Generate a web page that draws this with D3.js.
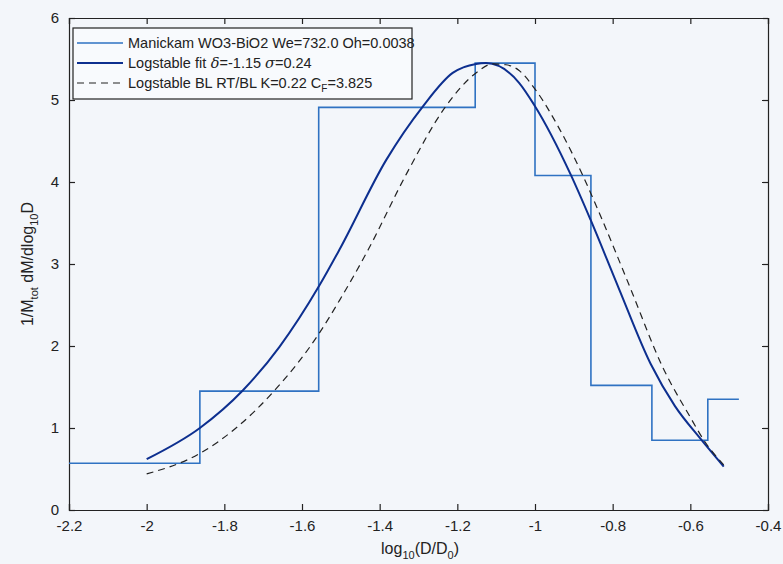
<!DOCTYPE html>
<html>
<head>
<meta charset="utf-8">
<script src="https://cdn.jsdelivr.net/npm/d3@7"></script>
<style>
  body { margin: 0; background: #f3f6fa; }
  svg { display: block; font-family: "Liberation Sans", Arial, sans-serif; }
</style>
</head>
<body>
<svg id="chart" width="783" height="564"></svg>
<script>
"use strict";
// histogram bin edges (log10 D/D0) and heights
const binEdges = [-2.2, -1.863, -1.557, -1.154, -1.0, -0.856, -0.699, -0.555, -0.475];
const binValues = [0.57, 1.45, 4.91, 5.45, 4.08, 1.52, 0.85, 1.35];

// logstable fit (solid dark blue)
const fitX = [-2.0, -1.863, -1.752, -1.658, -1.555, -1.503, -1.383, -1.289, -1.212, -1.152, -1.126, -1.041, -1.002, -0.908, -0.857, -0.784, -0.702, -0.640, -0.574, -0.514];
const fitY = [0.62, 1.00, 1.46, 1.99, 2.74, 3.18, 4.27, 4.92, 5.33, 5.44, 5.45, 5.21, 4.94, 4.09, 3.54, 2.70, 1.78, 1.27, 0.87, 0.53];

// logstable BL RT/BL model (dashed black)
const blX = [-2.0, -1.863, -1.676, -1.555, -1.503, -1.430, -1.332, -1.233, -1.152, -1.109, -1.075, -1.041, -0.998, -0.935, -0.878, -0.827, -0.754, -0.672, -0.600, -0.565, -0.514];
const blY = [0.44, 0.69, 1.43, 2.16, 2.56, 3.17, 4.09, 4.90, 5.33, 5.44, 5.43, 5.36, 5.12, 4.63, 4.09, 3.54, 2.70, 1.75, 1.13, 0.85, 0.55];

const xTicks = [-2.2, -2, -1.8, -1.6, -1.4, -1.2, -1, -0.8, -0.6, -0.4];
const yTicks = [0, 1, 2, 3, 4, 5, 6];

const legendItems = [
  { label: "Manickam WO3-BiO2 We=732.0 Oh=0.0038", color: "#2f72c2", width: 1.6, dash: null },
  { label: "Logstable fit", color: "#0d2f8f", width: 2, dash: null, greek: true },
  { label: "Logstable BL RT/BL K=0.22 C", color: "#222", width: 1.2, dash: "7,5", sub: true }
];

const svg = d3.select('#chart');
const pLeft = 69, pRight = 768, pTop = 18, pBottom = 510;

const x = d3.scaleLinear().domain([-2.2, -0.4]).range([pLeft, pRight]);
const y = d3.scaleLinear().domain([0, 6]).range([pBottom, pTop]);

svg.append('rect').attr('width', 783).attr('height', 564).attr('fill', '#f3f6fa');

// axes with inward ticks, box on (plain hyphen for minus like MATLAB)
const fmt = d => String(+d.toFixed(1));
svg.append('g').attr('transform', `translate(0,${pBottom})`)
  .call(d3.axisBottom(x).tickValues(xTicks).tickSize(-6).tickPadding(10).tickFormat(fmt));
svg.append('g').attr('transform', `translate(0,${pTop})`)
  .call(d3.axisTop(x).tickValues(xTicks).tickSize(-6).tickFormat(''));
svg.append('g').attr('transform', `translate(${pLeft},0)`)
  .call(d3.axisLeft(y).tickValues(yTicks).tickSize(-6).tickPadding(10).tickFormat(fmt));
svg.append('g').attr('transform', `translate(${pRight},0)`)
  .call(d3.axisRight(y).tickValues(yTicks).tickSize(-6).tickFormat(''));
svg.selectAll('.domain').attr('stroke', '#222').attr('stroke-width', 1.2);
svg.selectAll('.tick line').attr('stroke', '#222').attr('stroke-width', 1.2);
svg.selectAll('.tick text').attr('font-size', 15).attr('fill', '#222')
  .attr('font-family', '"Liberation Sans", Arial, sans-serif');

// histogram as a step line
const stepPts = [];
binValues.forEach((v, i) => {
  stepPts.push([binEdges[i], v]);
  stepPts.push([binEdges[i + 1], v]);
});
const line = d3.line().x(d => x(d[0])).y(d => y(d[1]));
svg.append('path').datum(stepPts)
  .attr('d', line)
  .attr('fill', 'none').attr('stroke', '#2f72c2').attr('stroke-width', 1.6);

const smooth = d3.line().x(d => x(d[0])).y(d => y(d[1])).curve(d3.curveMonotoneX);
svg.append('path').datum(fitX.map((v, i) => [v, fitY[i]]))
  .attr('d', smooth)
  .attr('fill', 'none').attr('stroke', '#0d2f8f').attr('stroke-width', 2);
svg.append('path').datum(blX.map((v, i) => [v, blY[i]]))
  .attr('d', smooth)
  .attr('fill', 'none').attr('stroke', '#222').attr('stroke-width', 1.2)
  .attr('stroke-dasharray', '7,5');

// legend
const lg = svg.append('g');
lg.append('rect').attr('x', 73).attr('y', 28).attr('width', 339).attr('height', 71)
  .attr('fill', '#f8fafd').attr('stroke', '#222').attr('stroke-width', 1.2);
legendItems.forEach((d, i) => {
  const ly = 43 + i * 20;
  lg.append('line').attr('x1', 77).attr('x2', 123).attr('y1', ly).attr('y2', ly)
    .attr('stroke', d.color).attr('stroke-width', d.width)
    .attr('stroke-dasharray', d.dash);
  const t = lg.append('text').attr('x', 128).attr('y', ly + 5)
    .attr('font-size', 14.5).attr('fill', '#222');
  t.append('tspan').text(d.label);
  if (d.greek) {
    t.append('tspan').attr('font-family', '"DejaVu Serif", serif').attr('font-style', 'italic').text(' δ');
    t.append('tspan').text('=-1.15 ');
    t.append('tspan').attr('font-family', '"DejaVu Serif", serif').attr('font-style', 'italic').text('σ');
    t.append('tspan').text('=0.24');
  }
  if (d.sub) {
    t.append('tspan').attr('font-size', 10).attr('dy', 4).text('F');
    t.append('tspan').attr('dy', -4).text('=3.825');
  }
});

// axis labels
const xl = svg.append('text').attr('x', 420).attr('y', 554).attr('text-anchor', 'middle')
  .attr('font-size', 16).attr('fill', '#222');
xl.append('tspan').text('log');
xl.append('tspan').attr('font-size', 11).attr('dy', 5).text('10');
xl.append('tspan').attr('dy', -5).text('(D/D');
xl.append('tspan').attr('font-size', 11).attr('dy', 5).text('0');
xl.append('tspan').attr('dy', -5).text(')');

const yl = svg.append('text').attr('transform', 'translate(33,264) rotate(-90)')
  .attr('text-anchor', 'middle').attr('font-size', 16).attr('fill', '#222');
yl.append('tspan').text('1/M');
yl.append('tspan').attr('font-size', 11).attr('dy', 5).text('tot');
yl.append('tspan').attr('dy', -5).text(' dM/dlog');
yl.append('tspan').attr('font-size', 11).attr('dy', 5).text('10');
yl.append('tspan').attr('dy', -5).text('D');
</script>
</body>
</html>
